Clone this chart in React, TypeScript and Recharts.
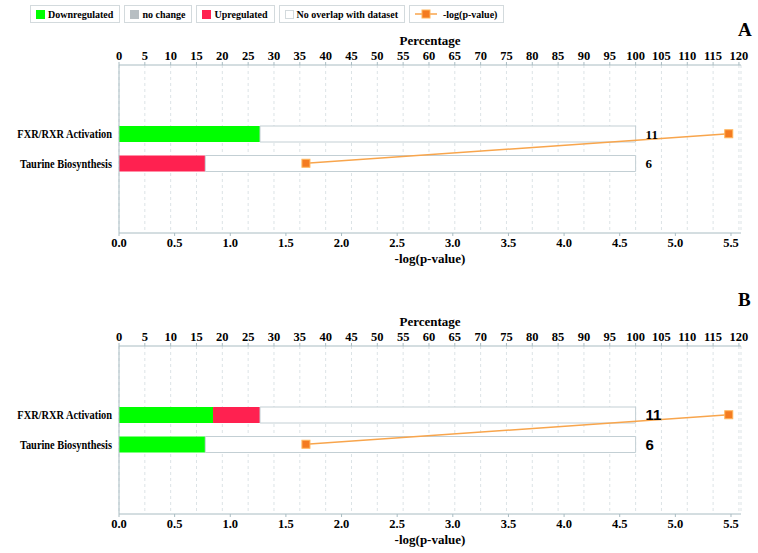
import React from 'react';
import {
  ComposedChart,
  Bar,
  Line,
  XAxis,
  YAxis,
  CartesianGrid,
  LabelList,
} from 'recharts';

const categories = ['FXR/RXR Activation', 'Taurine Biosynthesis'];
const moleculeCounts = [11, 6];
const pValuesLog = [5.48, 1.68];

const downA = [27.3, 0];
const upA = [0, 16.7];
const noChangeA = [0, 0];
const noOverlapA = [72.7, 83.3];

const downB = [18.2, 16.7];
const upB = [9.1, 0];
const noChangeB = [0, 0];
const noOverlapB = [72.7, 83.3];

const percentTicks = [0, 5, 10, 15, 20, 25, 30, 35, 40, 45, 50, 55, 60, 65, 70, 75, 80, 85, 90, 95, 100, 105, 110, 115, 120];
const pTicks = [0, 0.5, 1, 1.5, 2, 2.5, 3, 3.5, 4, 4.5, 5, 5.5];

const legendItems = [
  { label: 'Downregulated', color: '#00ff00', kind: 'box' },
  { label: 'no change', color: '#b7bec2', kind: 'box' },
  { label: 'Upregulated', color: '#ff2150', kind: 'box' },
  { label: 'No overlap with dataset', color: '#ffffff', kind: 'box' },
  { label: '-log(p-value)', color: '#f47b20', kind: 'line' },
];

const COLORS = {
  down: '#00ff00',
  up: '#ff2150',
  nochange: '#b7bec2',
  nooverlap: '#ffffff',
  nooverlapStroke: '#c3cfd4',
  line: '#f8a54c',
  dot: '#f47b20',
  dotStroke: '#ffb55a',
  axis: '#a9bcc2',
  grid: '#dce3e6',
};

const SERIF = '"Liberation Serif", "Times New Roman", serif';

function buildRows(down: number[], up: number[], nochange: number[], nooverlap: number[]) {
  return categories.map((name, i) => ({
    name,
    down: down[i],
    up: up[i],
    nochange: nochange[i],
    nooverlap: nooverlap[i],
    count: moleculeCounts[i],
    pval: pValuesLog[i],
  }));
}

const dataA = buildRows(downA, upA, noChangeA, noOverlapA);
const dataB = buildRows(downB, upB, noChangeB, noOverlapB);

const SquareDot = (props: any) => {
  const { cx, cy } = props;
  if (cx == null || cy == null) return null;
  return (
    <rect x={cx - 4} y={cy - 4} width={8} height={8} fill={COLORS.dot} stroke={COLORS.dotStroke} strokeWidth={1} />
  );
};

const CategoryTick = (props: any) => {
  const { x, y, payload } = props;
  return (
    <g transform={`translate(${x},${y}) scale(0.83,1)`}>
      <text
        x={0}
        y={0}
        dy="0.35em"
        textAnchor="end"
        fontFamily={SERIF}
        fontWeight={700}
        fontSize={12.5}
        fill="#000"
      >
        {payload.value}
      </text>
    </g>
  );
};

const tickStyle = { fontFamily: SERIF, fontWeight: 700, fontSize: 12.5, fill: '#000' };

function Panel({ data, countStyle }: { data: any[]; countStyle: any }) {
  return (
    <ComposedChart
      layout="vertical"
      width={758}
      height={275}
      data={data}
      margin={{ top: 43, right: 17, bottom: 20, left: 0 }}
    >
      <CartesianGrid
        xAxisId="pct"
        yAxisId="cat"
        horizontal={false}
        vertical={true}
        stroke={COLORS.grid}
        strokeDasharray="3 3"
      />
      <XAxis
        xAxisId="pct"
        type="number"
        orientation="top"
        domain={[0, 120.4]}
        ticks={percentTicks}
        interval={0}
        height={22}
        tickSize={3}
        tickMargin={2}
        stroke={COLORS.axis}
        tick={tickStyle}
        label={{
          value: 'Percentage',
          position: 'top',
          offset: -2,
          style: { fontFamily: SERIF, fontWeight: 700, fontSize: 13, fill: '#000' },
        }}
      />
      <XAxis
        xAxisId="p"
        type="number"
        orientation="bottom"
        domain={[0, 5.59]}
        ticks={pTicks}
        interval={0}
        height={22}
        tickSize={3}
        tickMargin={2}
        stroke={COLORS.axis}
        tick={tickStyle}
        tickFormatter={(v: number) => v.toFixed(1)}
        label={{
          value: '-log(p-value)',
          position: 'bottom',
          offset: -1,
          style: { fontFamily: SERIF, fontWeight: 700, fontSize: 13, fill: '#000' },
        }}
      />
      <YAxis
        yAxisId="cat"
        type="category"
        dataKey="name"
        width={119}
        padding={{ top: 54, bottom: 55 }}
        tickLine={false}
        tickSize={0}
        tickMargin={7}
        stroke={COLORS.axis}
        tick={<CategoryTick />}
      />
      <YAxis
        yAxisId="right"
        orientation="right"
        type="category"
        dataKey="name"
        width={0}
        tick={false}
        tickLine={false}
        stroke="#cdd6da"
      />
      <Bar xAxisId="pct" yAxisId="cat" dataKey="down" stackId="s" fill={COLORS.down} barSize={16} isAnimationActive={false} />
      <Bar xAxisId="pct" yAxisId="cat" dataKey="up" stackId="s" fill={COLORS.up} barSize={16} isAnimationActive={false} />
      <Bar xAxisId="pct" yAxisId="cat" dataKey="nochange" stackId="s" fill={COLORS.nochange} barSize={16} isAnimationActive={false} />
      <Bar
        xAxisId="pct"
        yAxisId="cat"
        dataKey="nooverlap"
        stackId="s"
        fill={COLORS.nooverlap}
        stroke={COLORS.nooverlapStroke}
        strokeWidth={1}
        barSize={16}
        isAnimationActive={false}
      >
        <LabelList dataKey="count" position="right" offset={10} style={countStyle} />
      </Bar>
      <Line
        xAxisId="p"
        yAxisId="cat"
        dataKey="pval"
        stroke={COLORS.line}
        strokeWidth={1.5}
        dot={<SquareDot />}
        activeDot={false}
        isAnimationActive={false}
      />
    </ComposedChart>
  );
}

function LegendBar() {
  return (
    <div
      style={{
        position: 'absolute',
        left: 30,
        top: 5,
        display: 'flex',
        gap: 4,
        fontFamily: SERIF,
        fontWeight: 700,
        fontSize: 10,
        color: '#000',
      }}
    >
      {legendItems.map((it) => (
        <div
          key={it.label}
          style={{
            border: '1px solid #d3dadd',
            height: 18,
            display: 'flex',
            alignItems: 'center',
            padding: '0 6px 0 5px',
            boxSizing: 'border-box',
            whiteSpace: 'nowrap',
          }}
        >
          {it.kind === 'box' ? (
            <span
              style={{
                display: 'inline-block',
                width: 9,
                height: 9,
                background: it.color,
                border: it.color === '#ffffff' ? '1px solid #d3dadd' : 'none',
                boxSizing: 'border-box',
                marginRight: 3,
              }}
            />
          ) : (
            <svg width={22} height={10} style={{ marginRight: 6 }}>
              <line x1={0} y1={5} x2={22} y2={5} stroke={COLORS.line} strokeWidth={1.5} />
              <rect x={7} y={1} width={8} height={8} fill={COLORS.dot} stroke={COLORS.dotStroke} />
            </svg>
          )}
          <span>{it.label}</span>
        </div>
      ))}
    </div>
  );
}

const letterStyle: React.CSSProperties = {
  position: 'absolute',
  left: 738,
  fontFamily: SERIF,
  fontWeight: 700,
  fontSize: 19,
  lineHeight: '19px',
  color: '#000',
};

export default function App() {
  return (
    <div style={{ position: 'absolute', left: 0, top: 0, width: 758, height: 553, background: '#fff', overflow: 'hidden' }}>
      <LegendBar />
      <div style={{ ...letterStyle, top: 20 }}>A</div>
      <div style={{ position: 'absolute', left: 0, top: 0 }}>
        <Panel data={dataA} countStyle={{ fontFamily: SERIF, fontWeight: 700, fontSize: 13, fill: '#000' }} />
      </div>
      <div style={{ ...letterStyle, top: 290 }}>B</div>
      <div style={{ position: 'absolute', left: 0, top: 281 }}>
        <Panel
          data={dataB}
          countStyle={{ fontFamily: '"Liberation Sans", Arial, sans-serif', fontWeight: 700, fontSize: 15, fill: '#000' }}
        />
      </div>
    </div>
  );
}
